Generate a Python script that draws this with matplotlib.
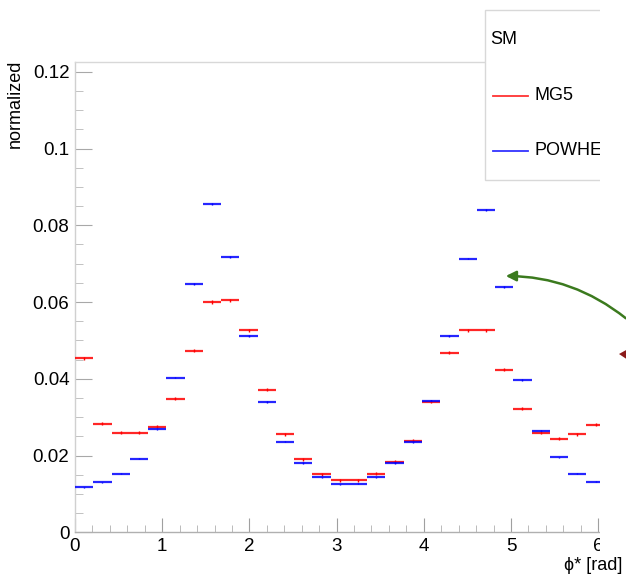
import numpy as np
import matplotlib
matplotlib.use("Agg")
import matplotlib.pyplot as plt
from matplotlib.patches import Rectangle, FancyArrowPatch, Polygon
from matplotlib.lines import Line2D
from matplotlib.ticker import MultipleLocator

plt.rcParams['font.family'] = ['Liberation Sans', 'DejaVu Sans']

n_bins = 30
edges = np.linspace(0, 2 * np.pi, n_bins + 1)

mg5 = [0.0454, 0.0283, 0.0260, 0.0260, 0.0275, 0.0348, 0.0473, 0.0600, 0.0605, 0.0527,
       0.0371, 0.0255, 0.0190, 0.0151, 0.0135, 0.0135, 0.0153, 0.0184, 0.0239, 0.0340,
       0.0468, 0.0527, 0.0527, 0.0423, 0.0322, 0.0260, 0.0244, 0.0255, 0.0280, 0.0400]
powheg = [0.0117, 0.0130, 0.0153, 0.0192, 0.0268, 0.0403, 0.0647, 0.0855, 0.0717, 0.0512,
          0.0340, 0.0236, 0.0180, 0.0143, 0.0125, 0.0127, 0.0143, 0.0180, 0.0234, 0.0343,
          0.0512, 0.0713, 0.0840, 0.0639, 0.0397, 0.0265, 0.0195, 0.0153, 0.0132, 0.0120]
mg5_err = [0.0004] * n_bins
powheg_err = [0.0002] * n_bins

W, H = 626, 574
fig = plt.figure(figsize=(W / 100, H / 100), dpi=100)
x0, x1 = 75, 622.9
y0, y1 = 532.3, 62
ax = fig.add_axes([x0 / W, 1 - y0 / H, (x1 - x0) / W, (y0 - y1) / H])
ax.set_xlim(0, 2 * np.pi)
ax.set_ylim(0, (y0 - y1) / 3838)

centers = 0.5 * (edges[:-1] + edges[1:])
ax.hlines(mg5, edges[:-1], edges[1:], colors='red', lw=1.6, alpha=0.85, zorder=3)
ax.errorbar(centers, mg5, yerr=mg5_err, fmt='none', ecolor='red', elinewidth=1.0, capsize=0, zorder=3)
ax.hlines(powheg, edges[:-1], edges[1:], colors='blue', lw=1.6, alpha=0.85, zorder=3)
ax.errorbar(centers, powheg, yerr=powheg_err, fmt='none', ecolor='blue', elinewidth=1.0, capsize=0, zorder=3)

for s in ['right']:
    ax.spines[s].set_visible(False)
ax.spines['top'].set_color('#d8d8d8')
ax.spines['left'].set_color('#d0d0d0')
ax.spines['bottom'].set_color('#b0b0b0')
for s in ax.spines.values():
    s.set_linewidth(1.0)

ax.xaxis.set_major_locator(MultipleLocator(1))
ax.xaxis.set_minor_locator(MultipleLocator(0.2))
ax.yaxis.set_major_locator(MultipleLocator(0.02))
ax.yaxis.set_minor_locator(MultipleLocator(0.005))
ax.tick_params(axis='x', which='major', direction='in', length=10, color='#a0a0a0', labelsize=13.5, pad=4)
ax.tick_params(axis='x', which='minor', direction='in', length=5, color='#b0b0b0')
ax.tick_params(axis='y', which='major', direction='in', length=12, color='#a8a8a8', labelsize=13.5, pad=4)
ax.tick_params(axis='y', which='minor', direction='in', length=6, color='#b8b8b8')
ax.tick_params(top=False, right=False)

def yfmt(v, pos):
    if abs(v) < 1e-9:
        return '0'
    return ('%.2f' % v).rstrip('0')
ax.yaxis.set_major_formatter(matplotlib.ticker.FuncFormatter(yfmt))

fig.text(15 / W, 1 - 104 / H, 'normalized', rotation=90, ha='center', va='center', fontsize=13)

# legend box
fig.add_artist(Rectangle((485 / W, 1 - 180 / H), 140 / W, 170 / H, transform=fig.transFigure,
                         facecolor='white', edgecolor='#d8d8d8', lw=1.0, zorder=4))
fig.text(490 / W, 1 - 40 / H, 'SM', fontsize=13, va='center', ha='left', zorder=5)
fig.add_artist(Line2D([493 / W, 528 / W], [1 - 96 / H, 1 - 96 / H], color='red', lw=1.3, alpha=0.8, zorder=5))
fig.text(535 / W, 1 - 96 / H, 'MG5', fontsize=13, va='center', ha='left', zorder=5)
fig.add_artist(Line2D([493 / W, 528 / W], [1 - 151 / H, 1 - 151 / H], color='blue', lw=1.3, alpha=0.8, zorder=5))
fig.text(535 / W, 1 - 151 / H, 'POWHEG', fontsize=13, va='center', ha='left', zorder=5)

# clipping mask on the right
fig.add_artist(Rectangle((600 / W, 1 - 555 / H), 30 / W, 560 / H, transform=fig.transFigure,
                         facecolor='white', edgecolor='none', zorder=6))

fig.text(622 / W, 1 - 565 / H, 'ϕ* [rad]', fontsize=13, ha='right', va='center', zorder=7)

# annotation arrow
arr = FancyArrowPatch((628 / W, 1 - 320 / H), (503 / W, 1 - 276 / H), transform=fig.transFigure,
                      connectionstyle='arc3,rad=0.18', arrowstyle='-|>,head_length=6,head_width=3',
                      color='#3b7a1e', lw=1.8, zorder=8)
fig.add_artist(arr)
fig.add_artist(Polygon([(619 / W, 1 - 354 / H), (628 / W, 1 - 349 / H), (628 / W, 1 - 360 / H)],
                       closed=True, transform=fig.transFigure, facecolor='#8b1a1a', edgecolor='none', zorder=8))

fig.savefig('out.png', dpi=100)
